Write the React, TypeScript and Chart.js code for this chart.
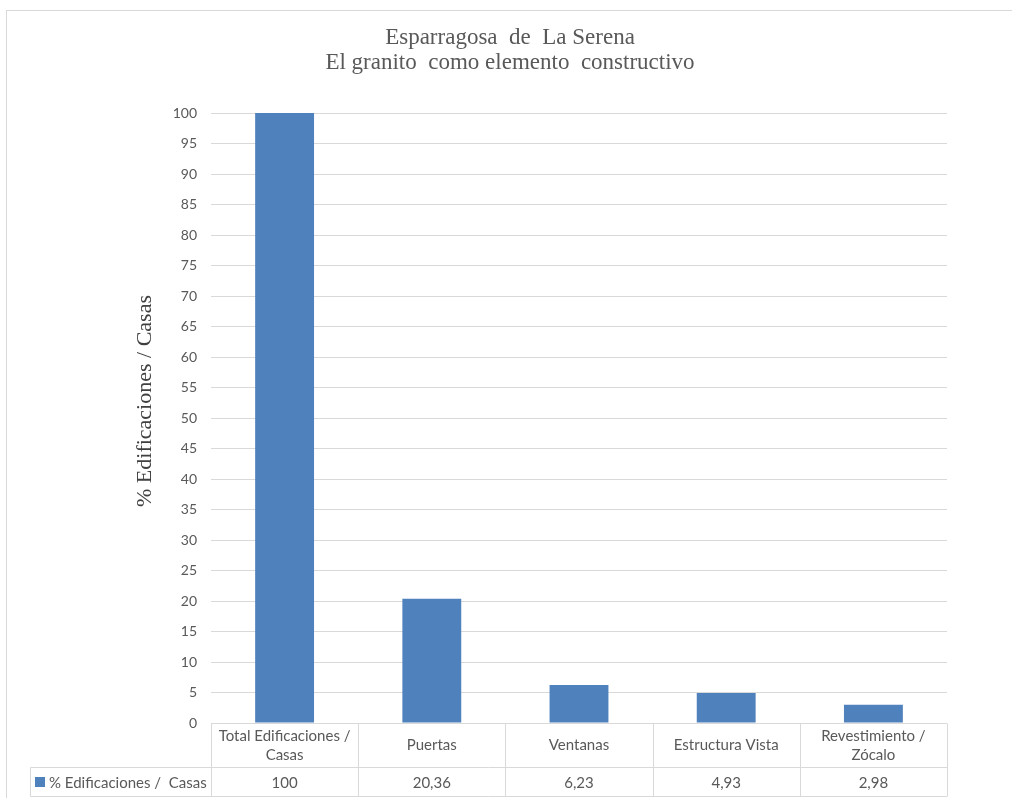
import React, { useEffect, useRef } from "react";
import { Chart, registerables } from "chart.js";

Chart.register(...registerables);

const categories: string[][] = [
  ["Total Edificaciones /", "Casas"],
  ["Puertas"],
  ["Ventanas"],
  ["Estructura Vista"],
  ["Revestimiento /", "Zócalo"],
];
const seriesName = "% Edificaciones /  Casas";
const values: number[] = [100, 20.36, 6.23, 4.93, 2.98];
const valueLabels: string[] = ["100", "20,36", "6,23", "4,93", "2,98"];
const titleLines: string[] = ["Esparragosa  de  La Serena", "El granito  como elemento  constructivo"];
const yTitle = "% Edificaciones / Casas";

const BLUE = "#4f81bd";
const GRID = "#d9d9d9";
const TEXT = "#595959";
const SANS = "Lato, 'Open Sans', sans-serif";
const SERIF = "'Liberation Serif', serif";

const tablePlugin = {
  id: "dataTable",
  beforeDraw(chart: any) {
    const ctx = chart.ctx;
    ctx.save();
    ctx.strokeStyle = GRID;
    ctx.lineWidth = 1;
    ctx.strokeRect(6.5, 10.5, 1020, 820);
    ctx.restore();
  },
  afterDraw(chart: any) {
    const ctx = chart.ctx;
    const xs = chart.scales.x;
    const area = chart.chartArea;
    const n = categories.length;
    const colW = (area.right - area.left) / n;
    const top = Math.round(area.bottom) + 0.5;
    const mid = top + 44;
    const bot = mid + 29;
    const legLeft = 30.5;
    ctx.save();
    ctx.strokeStyle = GRID;
    ctx.lineWidth = 1;
    ctx.beginPath();
    ctx.moveTo(area.left, top);
    ctx.lineTo(area.right, top);
    ctx.moveTo(legLeft, mid);
    ctx.lineTo(area.right, mid);
    ctx.moveTo(legLeft, bot);
    ctx.lineTo(area.right, bot);
    ctx.moveTo(legLeft, mid);
    ctx.lineTo(legLeft, bot);
    for (let i = 0; i <= n; i++) {
      const x = Math.round(area.left + i * colW) + 0.5;
      ctx.moveTo(x, top);
      ctx.lineTo(x, bot);
    }
    ctx.stroke();

    ctx.fillStyle = TEXT;
    ctx.font = "15px " + SANS;
    ctx.textAlign = "center";
    ctx.textBaseline = "middle";
    for (let i = 0; i < n; i++) {
      const cx = xs.getPixelForValue(i);
      const lines = categories[i];
      const lh = 19;
      const startY = (top + mid) / 2 - ((lines.length - 1) * lh) / 2;
      lines.forEach((l, j) => ctx.fillText(l, cx, startY + j * lh));
      ctx.fillText(valueLabels[i], cx, (mid + bot) / 2 + 1);
    }
    ctx.fillStyle = BLUE;
    ctx.fillRect(35, (mid + bot) / 2 - 5, 10, 10);
    ctx.fillStyle = TEXT;
    ctx.textAlign = "left";
    ctx.fillText(seriesName, 49, (mid + bot) / 2 + 1);

    // y-axis title
    ctx.save();
    ctx.translate(145, 401);
    ctx.rotate(-Math.PI / 2);
    ctx.fillStyle = "#404040";
    ctx.font = "22px " + SERIF;
    ctx.textAlign = "center";
    ctx.textBaseline = "middle";
    ctx.fillText(yTitle, 0, 0);
    ctx.restore();
    ctx.restore();
  },
};

export default function App() {
  const ref = useRef<HTMLCanvasElement | null>(null);
  useEffect(() => {
    document.body.style.margin = "0";
    const chart = new Chart(ref.current as HTMLCanvasElement, {
      type: "bar",
      data: {
        labels: categories.map((c) => c.join(" ")),
        datasets: [
          {
            label: seriesName,
            data: values,
            backgroundColor: BLUE,
            barPercentage: 0.4,
            categoryPercentage: 1,
          },
        ],
      },
      options: {
        animation: false,
        responsive: false,
        layout: { padding: { top: 25, left: 73, right: 65, bottom: 75 } },
        plugins: {
          legend: { display: false },
          tooltip: { enabled: false },
          title: {
            display: true,
            text: titleLines,
            color: TEXT,
            font: { family: SERIF, size: 23, weight: "normal", lineHeight: 1.1 },
            padding: { top: 0, bottom: 37.5 },
          },
        },
        scales: {
          x: { display: false },
          y: {
            min: 0,
            max: 100,
            ticks: {
              stepSize: 5,
              color: TEXT,
              font: { family: SANS, size: 14 },
              padding: 14,
            },
            grid: { color: GRID, drawTicks: false },
            border: { display: false },
            afterFit(scale: any) {
              scale.width = 138;
            },
          },
        },
      },
      plugins: [tablePlugin],
    } as any);
    return () => chart.destroy();
  }, []);
  return (
    <div style={{ position: "absolute", left: 0, top: 0, width: 1012, height: 798 }}>
      <canvas ref={ref} width={1012} height={798} />
    </div>
  );
}
